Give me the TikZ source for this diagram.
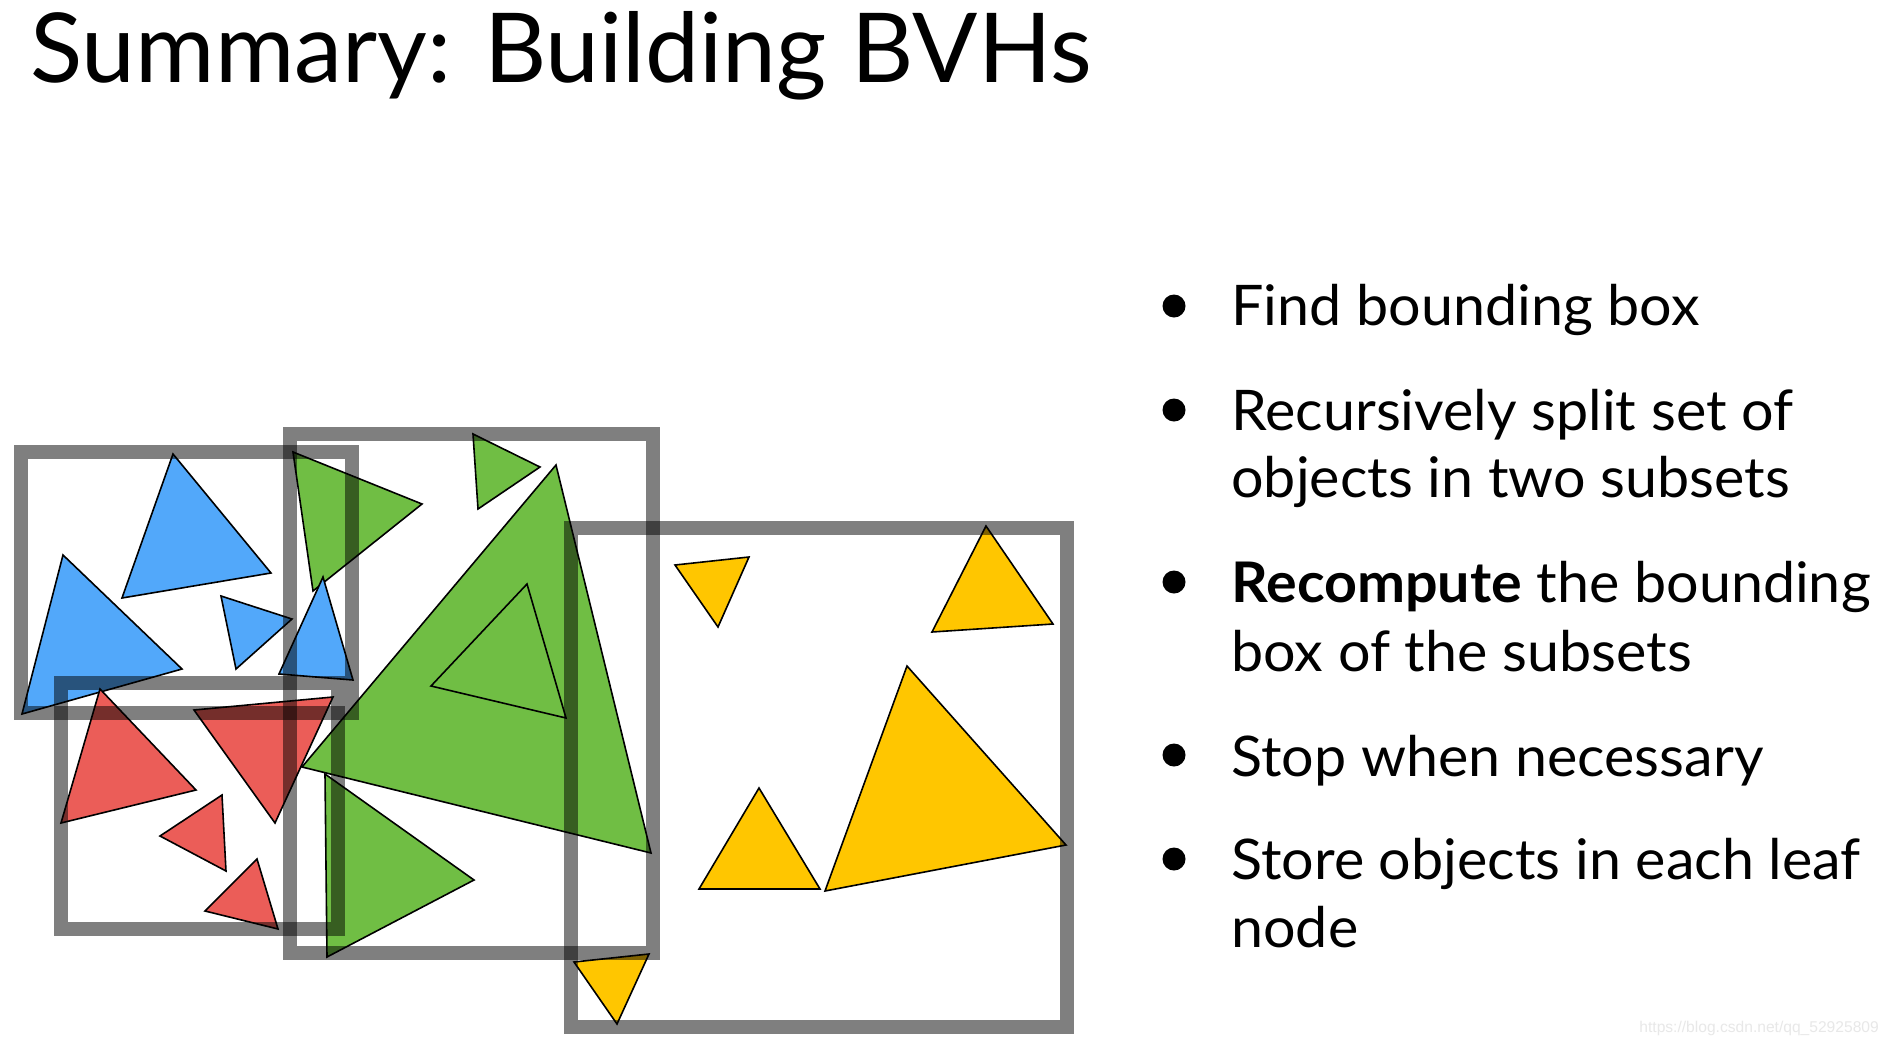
\documentclass[tikz,border=0pt]{standalone}
\usepackage{fontspec}
\setmainfont{Lato}
\newfontfamily\bodyfont[FakeStretch=1.025]{Lato}
\newfontfamily\wmfont{Liberation Sans}
\definecolor{tblue}{RGB}{82,168,250}
\definecolor{tred}{RGB}{235,93,88}
\definecolor{tgreen}{RGB}{112,190,68}
\definecolor{tyellow}{RGB}{255,198,0}
\definecolor{wmgray}{RGB}{232,232,232}
\begin{document}
\begin{tikzpicture}[x=0.5pt,y=-0.5pt,
  tri/.style={draw=black,line width=0.8pt,line join=miter},
  bvbox/.style={draw=black,draw opacity=0.5,line width=7pt,line join=miter},
  txt/.style={anchor=base west,inner sep=0pt,font=\bodyfont\fontsize{28}{32}\selectfont},
  bul/.style={circle,fill=black,inner sep=0pt,minimum size=11.5pt}]
\useasboundingbox (0,0) rectangle (1892,1045);
\fill[white] (0,0) rectangle (1892,1045);

% title
\node[anchor=base west,inner sep=0pt,font=\fontsize{48.25}{56}\selectfont] (title) at (30,82) {Summary: Building BVHs};

% green triangles
\filldraw[tri,fill=tgreen] (293,452) -- (422,504) -- (313,591) -- cycle;
\filldraw[tri,fill=tgreen] (473,434) -- (540,467) -- (478,509) -- cycle;
\filldraw[tri,fill=tgreen] (556,465) -- (651,853) -- (302,767) -- cycle;
\filldraw[tri,fill=tgreen] (527,584) -- (566,718) -- (431,686) -- cycle;
\filldraw[tri,fill=tgreen] (325,774) -- (474,880) -- (327,957) -- cycle;

% blue triangles
\filldraw[tri,fill=tblue] (173,454) -- (271,573) -- (122,598) -- cycle;
\filldraw[tri,fill=tblue] (63,555) -- (182,669) -- (22,714) -- cycle;
\filldraw[tri,fill=tblue] (221,596) -- (292,619) -- (236,669) -- cycle;
\filldraw[tri,fill=tblue] (323,577) -- (353,680) -- (279,674) -- cycle;

% red triangles
\filldraw[tri,fill=tred] (100,689) -- (196,790) -- (61,823) -- cycle;
\filldraw[tri,fill=tred] (194,710) -- (333,697) -- (275,823) -- cycle;
\filldraw[tri,fill=tred] (222,795) -- (226,871) -- (160,836) -- cycle;
\filldraw[tri,fill=tred] (257,859) -- (278,929) -- (205,911) -- cycle;

% yellow triangles
\filldraw[tri,fill=tyellow] (675,565) -- (749,557) -- (718,627) -- cycle;
\filldraw[tri,fill=tyellow] (986,526) -- (1053,624) -- (932,632) -- cycle;
\filldraw[tri,fill=tyellow] (759,788) -- (820,889) -- (699,889) -- cycle;
\filldraw[tri,fill=tyellow] (907,666) -- (1066,845) -- (825,891) -- cycle;
\filldraw[tri,fill=tyellow] (574,962) -- (649,954) -- (617,1024) -- cycle;

% bounding boxes
\draw[bvbox] (21,452) rectangle (352,713);
\draw[bvbox] (61,683) rectangle (338,929);
\draw[bvbox] (290,434) rectangle (653,953);
\draw[bvbox] (571,528) rectangle (1067,1027);

% bullets
\node[bul] (b1) at (1174,306) {};
\node[bul] (b2) at (1174,410) {};
\node[bul] (b3) at (1174,582) {};
\node[bul] (b4) at (1174,755) {};
\node[bul] (b5) at (1174,859) {};

\node[txt] (t1) at (1231,325) {Find bounding box};
\node[txt] (t2a) at (1231,430) {Recursively split set of};
\node[txt] (t2b) at (1231,497) {objects in two subsets};
\node[txt] (t3a) at (1231,602) {\textbf{Recompute} the bounding};
\node[txt] (t3b) at (1231,671) {box of the subsets};
\node[txt] (t4) at (1231,776) {Stop when necessary};
\node[txt] (t5a) at (1231,879) {Store objects in each leaf};
\node[txt] (t5b) at (1231,947) {node};

% watermark
\node[anchor=base west,inner sep=0pt,text=wmgray,font=\wmfont\fontsize{7.8}{9}\selectfont] (wm) at (1639,1032) {https://blog.csdn.net/qq\_52925809};
\end{tikzpicture}
\end{document}
